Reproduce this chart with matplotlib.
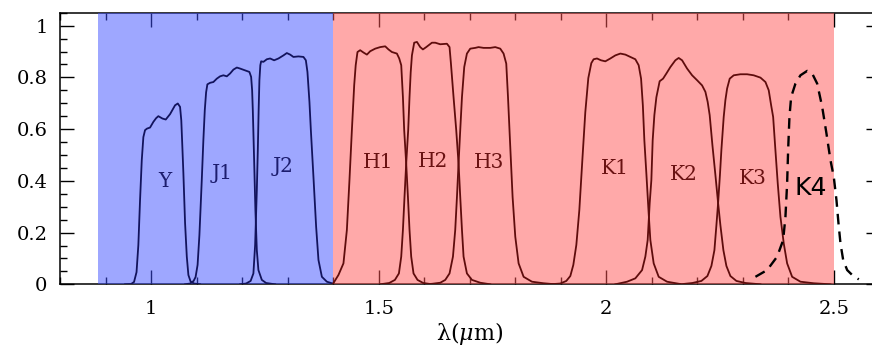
import matplotlib
matplotlib.use("Agg")
import matplotlib.pyplot as plt
from matplotlib.ticker import MultipleLocator, FixedLocator, FixedFormatter

plt.rcParams['font.family'] = ['DejaVu Serif']
plt.rcParams['mathtext.fontset'] = 'dejavuserif'

# ---- data (wavelength in micron, transmission) ----
Y_x = [0.9429, 0.956, 0.9626, 0.9681, 0.9721, 0.9758, 0.9796, 0.9831, 0.9868, 0.9912, 0.9978,
       1.0051, 1.011, 1.016, 1.0248, 1.0323, 1.0418, 1.0527, 1.0587, 1.0637, 1.0664, 1.0686,
       1.071, 1.0747, 1.0785, 1.082, 1.0868, 1.0945, 1.1077]
Y_y = [0.0, 0.001, 0.009, 0.047, 0.152, 0.325, 0.480, 0.569, 0.596, 0.602, 0.606,
       0.628, 0.642, 0.650, 0.641, 0.637, 0.658, 0.692, 0.699, 0.686, 0.634, 0.538,
       0.430, 0.237, 0.107, 0.036, 0.011, 0.003, 0.0]

J1_x = [1.0747, 1.0857, 1.0934, 1.0978, 1.1022, 1.1062, 1.1114, 1.1149, 1.118, 1.1209, 1.1237,
        1.1297, 1.1369, 1.1444, 1.1516, 1.1589, 1.1664, 1.1736, 1.1809, 1.1884, 1.1956, 1.2066,
        1.216, 1.2198, 1.222, 1.2235, 1.2264, 1.2292, 1.2323, 1.2358, 1.2433, 1.2527, 1.2725]
J1_y = [0.0, 0.003, 0.013, 0.028, 0.075, 0.190, 0.403, 0.557, 0.673, 0.742, 0.773,
        0.779, 0.782, 0.795, 0.804, 0.808, 0.804, 0.815, 0.830, 0.838, 0.834, 0.827,
        0.821, 0.802, 0.750, 0.673, 0.480, 0.287, 0.132, 0.055, 0.017, 0.005, 0.0]

J2_x = [1.1956, 1.2088, 1.2187, 1.2248, 1.2286, 1.2323, 1.2345, 1.2363, 1.2380, 1.24, 1.2418,
        1.2468, 1.2543, 1.2615, 1.2703, 1.2798, 1.2908, 1.2982, 1.3055, 1.3127, 1.3237, 1.3347,
        1.34, 1.3435, 1.3479, 1.351, 1.3567, 1.3626, 1.3677, 1.3752, 1.3862, 1.3971]
J2_y = [0.0, 0.003, 0.013, 0.042, 0.152, 0.364, 0.519, 0.673, 0.789, 0.847, 0.862,
        0.860, 0.870, 0.873, 0.866, 0.873, 0.885, 0.894, 0.888, 0.879, 0.881, 0.879,
        0.866, 0.821, 0.705, 0.596, 0.415, 0.222, 0.094, 0.029, 0.010, 0.004]

H1_x = [1.4, 1.4116, 1.4226, 1.4301, 1.4358, 1.4411, 1.4462, 1.4495, 1.4534, 1.4593, 1.4666,
        1.4741, 1.4813, 1.4923, 1.5033, 1.5143, 1.5215, 1.529, 1.54, 1.5451, 1.5495, 1.5532,
        1.5560, 1.5604, 1.5642, 1.5677, 1.5714, 1.5765, 1.5853, 1.5978, 1.6176]
H1_y = [0.003, 0.036, 0.081, 0.210, 0.403, 0.596, 0.770, 0.847, 0.898, 0.905, 0.896,
        0.888, 0.901, 0.911, 0.917, 0.920, 0.908, 0.898, 0.892, 0.873, 0.847, 0.724,
        0.596, 0.467, 0.338, 0.210, 0.107, 0.042, 0.017, 0.005, 0.0]

H2_x = [1.5033, 1.5231, 1.5356, 1.5444, 1.5495, 1.5532, 1.5567, 1.5604, 1.5648, 1.5677, 1.5703,
        1.5730, 1.5780, 1.5840, 1.5912, 1.5971, 1.6044, 1.6169, 1.6242, 1.6352, 1.6499, 1.6556,
        1.6587, 1.6644, 1.6703, 1.6754, 1.6791, 1.6829, 1.6864, 1.6938, 1.7048, 1.7231, 1.7451]
H2_y = [0.0, 0.005, 0.017, 0.042, 0.107, 0.210, 0.338, 0.467, 0.596, 0.724, 0.820,
        0.885, 0.934, 0.937, 0.917, 0.908, 0.917, 0.934, 0.934, 0.928, 0.930, 0.917,
        0.853, 0.724, 0.596, 0.467, 0.338, 0.210, 0.107, 0.042, 0.017, 0.006, 0.0]

H3_x = [1.6022, 1.6176, 1.6352, 1.6462, 1.6556, 1.6631, 1.6681, 1.6719, 1.6754, 1.6791, 1.6829,
        1.6879, 1.6938, 1.7011, 1.7121, 1.7193, 1.7303, 1.7451, 1.7560, 1.7670, 1.7743, 1.7802,
        1.7840, 1.7890, 1.7941, 1.8000, 1.8073, 1.8183, 1.8367, 1.8622, 1.8879]
H3_y = [0.0, 0.002, 0.006, 0.017, 0.042, 0.107, 0.210, 0.338, 0.467, 0.596, 0.724,
        0.840, 0.892, 0.911, 0.914, 0.917, 0.914, 0.914, 0.917, 0.911, 0.892, 0.853,
        0.724, 0.531, 0.338, 0.184, 0.081, 0.029, 0.010, 0.004, 0.0]

K1_x = [1.8769, 1.8989, 1.9121, 1.9209, 1.9275, 1.9341, 1.9407, 1.9473, 1.9538, 1.9604, 1.9670,
        1.9721, 1.9795, 1.9883, 1.9978, 2.0088, 2.0198, 2.0308, 2.0418, 2.0527, 2.0637, 2.0710,
        2.0763, 2.0802, 2.0835, 2.0879, 2.0930, 2.0967, 2.1040, 2.1150, 2.1334, 2.1626]
K1_y = [0.0, 0.003, 0.013, 0.032, 0.075, 0.152, 0.287, 0.480, 0.665, 0.797, 0.855,
        0.870, 0.873, 0.866, 0.862, 0.873, 0.885, 0.892, 0.888, 0.879, 0.870, 0.847,
        0.795, 0.692, 0.557, 0.429, 0.274, 0.171, 0.081, 0.029, 0.010, 0.001]

K2_x = [2.0198, 2.0455, 2.0637, 2.0785, 2.0857, 2.0908, 2.0952, 2.0989, 2.1018, 2.1055, 2.1099,
        2.1171, 2.1246, 2.1319, 2.1407, 2.1516, 2.1589, 2.1664, 2.1774, 2.1884, 2.1993, 2.2103,
        2.2176, 2.2226, 2.2270, 2.2330, 2.2396, 2.2455, 2.2505, 2.2571, 2.2637, 2.2725, 2.2857,
        2.3055, 2.3385]
K2_y = [0.0, 0.010, 0.023, 0.055, 0.107, 0.171, 0.313, 0.403, 0.557, 0.654, 0.723,
        0.785, 0.795, 0.815, 0.840, 0.866, 0.875, 0.866, 0.834, 0.808, 0.789, 0.769,
        0.744, 0.705, 0.654, 0.538, 0.422, 0.314, 0.229, 0.132, 0.071, 0.032, 0.013,
        0.005, 0.0]

K3_x = [2.1626, 2.1890, 2.2088, 2.2220, 2.2308, 2.2374, 2.2418, 2.2455, 2.2495, 2.2527, 2.2578,
        2.2615, 2.2653, 2.2710, 2.2798, 2.2945, 2.3092, 2.3237, 2.3385, 2.3495, 2.3567, 2.3620,
        2.3664, 2.3714, 2.3765, 2.3824, 2.3897, 2.3971, 2.4081, 2.4264, 2.4556, 2.4923]
K3_y = [0.0, 0.005, 0.013, 0.032, 0.071, 0.132, 0.229, 0.314, 0.422, 0.519, 0.647,
        0.712, 0.757, 0.795, 0.808, 0.812, 0.812, 0.808, 0.799, 0.782, 0.750, 0.692,
        0.647, 0.518, 0.390, 0.261, 0.158, 0.081, 0.029, 0.010, 0.004, 0.0]

K4_x = [2.3275, 2.3532, 2.3752, 2.3884, 2.3934, 2.3971, 2.3993, 2.4022, 2.4059, 2.4154, 2.4264,
        2.4411, 2.4521, 2.4631, 2.4741, 2.4835, 2.4923, 2.4996, 2.5055, 2.5099, 2.5143, 2.5202,
        2.5290, 2.5400, 2.5545]
K4_y = [0.029, 0.055, 0.107, 0.171, 0.261, 0.390, 0.518, 0.647, 0.724, 0.776, 0.808,
        0.825, 0.815, 0.776, 0.686, 0.583, 0.480, 0.415, 0.325, 0.236, 0.158, 0.094,
        0.055, 0.036, 0.019]

labels = ['Y', 'J1', 'J2', 'H1', 'H2', 'H3', 'K1', 'K2', 'K3', 'K4']
label_x = [1.031, 1.157, 1.289, 1.498, 1.6205, 1.7414, 2.0187, 2.1707, 2.322, 2.449]
label_y = [0.398, 0.428, 0.457, 0.469, 0.475, 0.469, 0.446, 0.423, 0.409, 0.374]

blue_band = (0.8835, 1.4)
red_band = (1.4, 2.5)

xticks = [1, 1.5, 2, 2.5]
xtick_labels = ['1', '1.5', '2', '2.5']
yticks = [0, 0.2, 0.4, 0.6, 0.8, 1.0]
ytick_labels = ['0', '0.2', '0.4', '0.6', '0.8', '1']

# ---- figure ----
fig = plt.figure(figsize=(8.72, 3.51), dpi=100)
ax = fig.add_axes([60 / 872, 66.7 / 351, 819.5 / 872, 271.6 / 351])
ax.set_xlim(0.8, 2.6)
ax.set_ylim(0, 1.05)

ax.axvspan(*blue_band, color='#3f51ff', alpha=0.5, lw=0, zorder=2.6)
ax.axvspan(*red_band, color='#ff5555', alpha=0.5, lw=0, zorder=2.6)

blue_line = '#12135c'
red_line = '#5e0c0c'
for xs, ys in [(Y_x, Y_y), (J1_x, J1_y), (J2_x, J2_y)]:
    ax.plot(xs, ys, color=blue_line, lw=1.3, zorder=4)
for xs, ys in [(H1_x, H1_y), (H2_x, H2_y), (H3_x, H3_y), (K1_x, K1_y), (K2_x, K2_y), (K3_x, K3_y)]:
    ax.plot(xs, ys, color=red_line, lw=1.3, zorder=4)
ax.plot(K4_x, K4_y, color='black', lw=1.7, ls=(0, (4.5, 3)), zorder=4)

for lab, lx, ly in zip(labels, label_x, label_y):
    if lab == 'K4':
        ax.text(lx, ly, lab, ha='center', va='center', fontsize=18,
                family='DejaVu Sans', color='black', zorder=5)
    else:
        col = '#1c1d6e' if lab[0] in 'YJ' else '#6a1212'
        ax.text(lx, ly, lab, ha='center', va='center', fontsize=14.5,
                color=col, zorder=5)

ax.xaxis.set_major_locator(FixedLocator(xticks))
ax.xaxis.set_major_formatter(FixedFormatter(xtick_labels))
ax.xaxis.set_minor_locator(MultipleLocator(0.1))
ax.yaxis.set_major_locator(FixedLocator(yticks))
ax.yaxis.set_major_formatter(FixedFormatter(ytick_labels))
ax.yaxis.set_minor_locator(MultipleLocator(0.05))

ax.tick_params(which='both', direction='in', top=True, right=True, width=1.0, color='black')
ax.tick_params(which='major', length=10)
ax.tick_params(which='minor', length=5)
ax.tick_params(axis='y', which='major', pad=9, labelsize=14)
ax.tick_params(axis='x', which='major', pad=11, labelsize=14)
for s in ax.spines.values():
    s.set_linewidth(1.1)

ax.set_xlabel(r'λ($\mu$m)', fontsize=16, labelpad=2)

fig.savefig('out.png', dpi=100)
